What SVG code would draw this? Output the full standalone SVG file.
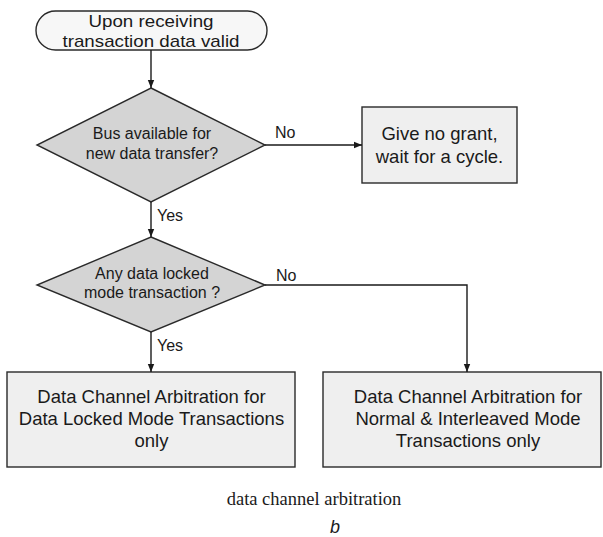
<svg xmlns="http://www.w3.org/2000/svg" width="603" height="537" viewBox="0 0 603 537">
<defs>
<marker id="arr" viewBox="0 0 10 10" refX="10" refY="5" markerWidth="8" markerHeight="8" markerUnits="userSpaceOnUse" orient="auto">
<path d="M0,1 L10,5 L0,9 Z" fill="#1a1a1a"/>
</marker>
</defs>
<style>
.shape{stroke:#2a2a2a;stroke-width:1.4}
.term{fill:#f7f7f7}
.dec{fill:#d4d4d4}
.box{fill:#efefef}
.t{font-family:"Liberation Sans",Arial,sans-serif;fill:#1a1a1a;text-anchor:middle}
.big{font-size:18.5px}
.st{font-size:17px}
.sm{font-size:16px}
.lbl{font-family:"Liberation Sans",Arial,sans-serif;font-size:16px;fill:#1a1a1a}
.conn{fill:none;stroke:#1a1a1a;stroke-width:1.4}
</style>
<rect width="603" height="537" fill="#ffffff"/>
<g id="start">
<rect class="shape term" x="36" y="11" width="231" height="39" rx="19.5" ry="19.5"/>
<text class="t st" x="151" y="27" textLength="125" lengthAdjust="spacingAndGlyphs">Upon receiving</text>
<text class="t st" x="151" y="46.5" textLength="177" lengthAdjust="spacingAndGlyphs">transaction data valid</text>
</g>
<g id="dec1">
<polygon class="shape dec" points="151,88 265,145 151,202 37,145"/>
<text class="t sm" x="152" y="139">Bus available for</text>
<text class="t sm" x="152" y="159">new data transfer?</text>
</g>
<g id="wait">
<rect class="shape box" x="362" y="107" width="155" height="76"/>
<text class="t big" x="439.5" y="140">Give no grant,</text>
<text class="t big" x="439.5" y="163">wait for a cycle.</text>
</g>
<g id="dec2">
<polygon class="shape dec" points="151,237 265,285 151,332 37,285"/>
<text class="t sm" x="152" y="279">Any data locked</text>
<text class="t sm" x="152" y="298">mode transaction ?</text>
</g>
<g id="locked">
<rect class="shape box" x="7" y="372" width="288" height="95"/>
<text class="t big" x="151.5" y="403">Data Channel Arbitration for</text>
<text class="t big" x="151.5" y="425">Data Locked Mode Transactions</text>
<text class="t big" x="151.5" y="447">only</text>
</g>
<g id="normal">
<rect class="shape box" x="323" y="372" width="278" height="95"/>
<text class="t big" x="468" y="403">Data Channel Arbitration for</text>
<text class="t big" x="468" y="425">Normal &amp; Interleaved Mode</text>
<text class="t big" x="468" y="447">Transactions only</text>
</g>
<g id="connectors">
<line class="conn" x1="151" y1="50" x2="151" y2="88" marker-end="url(#arr)"/>
<line class="conn" x1="265" y1="145" x2="362" y2="145" marker-end="url(#arr)"/>
<line class="conn" x1="151" y1="202" x2="151" y2="237" marker-end="url(#arr)"/>
<polyline class="conn" points="265,285 467,285 467,372" marker-end="url(#arr)"/>
<line class="conn" x1="151" y1="332" x2="151" y2="372" marker-end="url(#arr)"/>
<text class="lbl" x="275" y="138">No</text>
<text class="lbl" x="157" y="221">Yes</text>
<text class="lbl" x="276" y="281">No</text>
<text class="lbl" x="157" y="351">Yes</text>
</g>
<text x="314" y="505" font-family="'Liberation Serif','Times New Roman',serif" font-size="18.5" fill="#1a1a1a" text-anchor="middle">data channel arbitration</text>
<text x="335" y="533" font-family="'Liberation Sans',Arial,sans-serif" font-size="18" font-style="italic" fill="#1a1a1a" text-anchor="middle">b</text>
</svg>
